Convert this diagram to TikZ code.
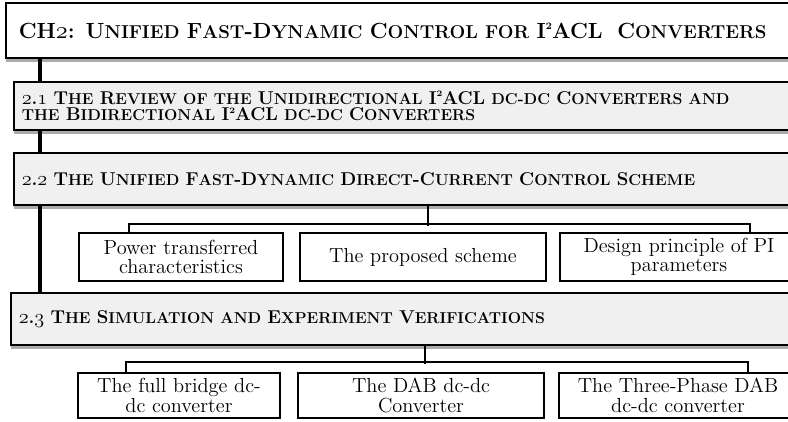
\documentclass[tikz,border=0pt]{standalone}
\usepackage{fontspec}
\usepackage{tikz}
\usetikzlibrary{shadows}
\makeatletter
\newcommand\lc[1]{{\fontsize{0.85\dimexpr\f@size pt\relax}{\f@baselineskip}\selectfont\MakeUppercase{#1}}}
\newcommand\sq{\raisebox{0.42em}{\fontsize{0.45\dimexpr\f@size pt\relax}{\f@baselineskip}\selectfont 2}}
\newcommand\osn[1]{{\fontencoding{OML}\fontfamily{lmm}\fontseries{b}\fontshape{it}\fontsize{1.2\dimexpr\f@size pt\relax}{\f@baselineskip}\selectfont #1}}
\makeatother

\begin{document}
\begin{tikzpicture}
            \tikzstyle{every node}=[font=\normalsize]
            \tikzstyle{boxshadow}=[drop shadow={shadow xshift=0.4pt, shadow yshift=-2.5pt, opacity=0.55, fill=black!60}]
            \tikzstyle{titlebox}=[draw, line width=1.1pt, fill=white, anchor=west, boxshadow,
                minimum height=1.375cm, text width=20.35cm, inner xsep=0.325cm, align=left,
                font=\fontsize{15.6}{16}\selectfont\bfseries]
            \tikzstyle{secbox}=[draw, line width=1.1pt, fill=gray!12, anchor=west, boxshadow,
                text width=20.3cm, inner xsep=0.2cm, align=left,
                font=\fontsize{13.2}{12}\selectfont\bfseries]
            \tikzstyle{subbox}=[draw, line width=0.9pt, fill=white, align=center, inner sep=0pt,
                font=\fontsize{14.5}{13.4}\selectfont]
            \tikzstyle{spine}=[line width=2.2pt]
            \tikzstyle{link}=[line width=1.4pt]
            \useasboundingbox (0,0) rectangle (19.7,10.525);
            \clip (0,0) rectangle (19.7,10.525);
            % headings
            \node [titlebox] (ch) at (0.125,9.7625) {CH\osn{2}: U\lc{nified} F\lc{ast}-D\lc{ynamic} C\lc{ontrol for} I\sq ACL~ C\lc{onverters}};
            \node [secbox, minimum height=1.2cm] (s21) at (0.325,7.875) {\osn{2}.\osn{1} T\lc{he} R\lc{eview of the} U\lc{nidirectional} I\sq ACL \lc{dc-dc} C\lc{onverters and}\\\lc{the} B\lc{idirectional} I\sq ACL \lc{dc-dc} C\lc{onverters}};
            \node [secbox, minimum height=1.3cm] (s22) at (0.325,6.05) {\osn{2}.\osn{2} T\lc{he} U\lc{nified} F\lc{ast}-D\lc{ynamic} D\lc{irect}-C\lc{urrent} C\lc{ontrol} S\lc{cheme}};
            \node [secbox, minimum height=1.3cm, text width=20.3cm] (s23) at (0.25,2.55) {\osn{2}.\osn{3} T\lc{he} S\lc{imulation and} E\lc{xperiment} V\lc{erifications}};
            % topics of 2.2
            \node [subbox, minimum width=5.1cm, minimum height=1.2cm] (c1) at (4.525,4.1) {Power transferred\\characteristics};
            \node [subbox, minimum width=6.15cm, minimum height=1.2cm] (c2) at (10.575,4.1) {The proposed scheme};
            \node [subbox, minimum width=5.95cm, minimum height=1.2cm] (c3) at (16.975,4.1) {Design principle of PI\\parameters};
            % topics of 2.3
            \node [subbox, minimum width=5.05cm, minimum height=1.125cm, font=\fontsize{14.5}{14.2}\selectfont] (d1) at (4.475,0.6375) {The full bridge dc-\\dc converter};
            \node [subbox, minimum width=6.15cm, minimum height=1.125cm, font=\fontsize{14.5}{14.2}\selectfont] (d2) at (10.525,0.6375) {The DAB dc-dc\\Converter};
            \node [subbox, minimum width=5.95cm, minimum height=1.125cm, font=\fontsize{14.5}{14.2}\selectfont] (d3) at (16.95,0.6375) {The Three-Phase DAB\\dc-dc converter};
            % main line
            \coordinate (sp) at (1,0);
            \draw [spine] (ch.south -| sp) -- (s21.north -| sp);
            \draw [spine] (s21.south -| sp) -- (s22.north -| sp);
            \draw [spine] (s22.south -| sp) -- (s23.north -| sp);
            % branches
            \coordinate (c1top) at ([xshift=1.275cm]c1.north west);
            \coordinate (c3top) at ([xshift=-1.225cm]c3.north east);
            \draw [link] (c1top) -- ++(0,0.2) -| (c3top);
            \draw [link] (s22.south) -- ++(0,-0.5);
            \coordinate (d1top) at ([xshift=1.225cm]d1.north west);
            \coordinate (d3top) at ([xshift=-1.25cm]d3.north east);
            \draw [link] (d1top) -- ++(0,0.25) -| (d3top);
            \draw [link] (s23.south) -- ++(0,-0.45);
        \end{tikzpicture}
\end{document}
